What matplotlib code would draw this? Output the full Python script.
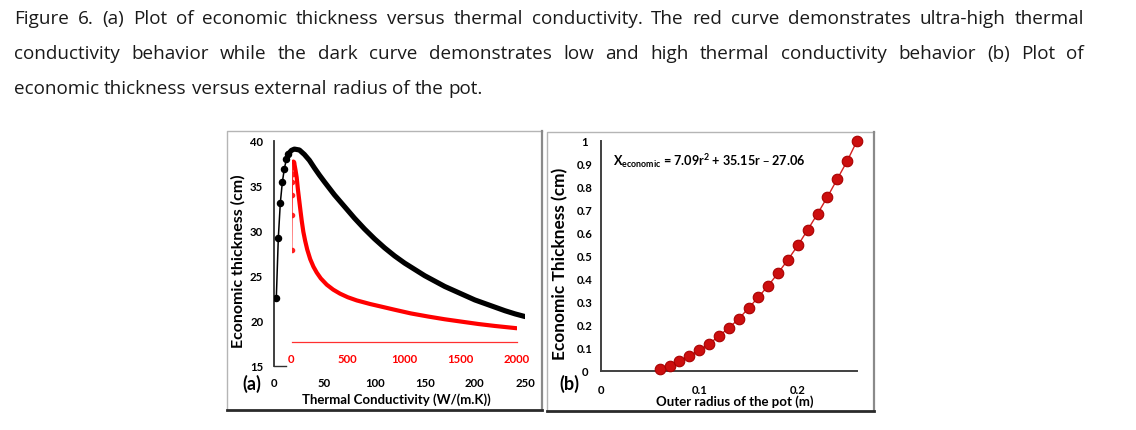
import matplotlib
matplotlib.use("Agg")
import matplotlib.pyplot as plt
from matplotlib.lines import Line2D

# ---- data ----
# (a) black curve: low / high thermal conductivity, W/(m.K)
k_black = [2, 4, 6, 8, 10, 12, 14, 17, 20, 25, 30, 35, 40, 45, 50, 60, 70, 80,
           90, 100, 110, 120, 130, 140, 150, 160, 170, 180, 190, 200, 210, 220,
           230, 240, 250]
t_black = [22.5, 29.2, 33.1, 35.4, 36.9, 37.95, 38.55, 38.95, 39.1, 39.0, 38.5,
           37.85, 37.0, 36.2, 35.45, 34.0, 32.7, 31.4, 30.2, 29.1, 28.1, 27.2,
           26.4, 25.7, 25.0, 24.4, 23.8, 23.3, 22.8, 22.3, 21.9, 21.5, 21.1,
           20.75, 20.45]
# (a) red curve: ultra-high thermal conductivity (secondary x axis 0..2000)
k_red = [2, 4, 6, 8, 10, 13, 16, 25, 35, 46, 57, 69, 80, 91, 105, 121, 140, 166,
         195, 224, 260, 313, 370, 431, 500, 579, 697, 800, 919, 1060, 1215,
         1360, 1512, 1660, 1808, 2000]
t_red = [27.9, 31.8, 34.0, 35.4, 36.3, 37.1, 37.7, 37.5, 36.8, 35.95, 34.6,
         33.35, 32.2, 31.1, 29.9, 28.9, 27.9, 26.85, 26.0, 25.35, 24.7, 24.0,
         23.45, 23.0, 22.6, 22.25, 21.85, 21.55, 21.2, 20.8, 20.45, 20.15,
         19.88, 19.62, 19.4, 19.15]
# (b) economic thickness vs outer radius
r_pot = [0.06, 0.07, 0.08, 0.09, 0.10, 0.11, 0.12, 0.13, 0.14, 0.15, 0.16, 0.17,
         0.18, 0.19, 0.20, 0.21, 0.22, 0.23, 0.24, 0.25, 0.26]
x_econ = [0.007, 0.022, 0.041, 0.065, 0.088, 0.116, 0.151, 0.186, 0.225, 0.272,
          0.32, 0.37, 0.425, 0.483, 0.545, 0.613, 0.683, 0.756, 0.834, 0.912, 1.0]

a_xticks = [0, 50, 100, 150, 200, 250]
a_yticks = [15, 20, 25, 30, 35, 40]
red_xticks = [0, 500, 1000, 1500, 2000]
b_xticks = [0, 0.1, 0.2]
b_xlabels = ["0", "0.1", "0.2"]
b_yticks = [0, 0.1, 0.2, 0.3, 0.4, 0.5, 0.6, 0.7, 0.8, 0.9, 1.0]
b_ylabels = ["0", "0.1", "0.2", "0.3", "0.4", "0.5", "0.6", "0.7", "0.8", "0.9", "1"]

caption = [
    "Figure 6. (a) Plot of economic thickness versus thermal conductivity. The red curve demonstrates ultra-high thermal",
    "conductivity behavior while the dark curve demonstrates low and high thermal conductivity behavior (b) Plot of",
    "economic thickness versus external radius of the pot.",
]

W, H = 1136, 431
plt.rcParams['font.family'] = ['Lato', 'DejaVu Sans']
plt.rcParams['font.weight'] = 'bold'
plt.rcParams['mathtext.default'] = 'regular'


def fx(x):
    return x / W


def fy(y):
    return 1 - y / H


fig = plt.figure(figsize=(W / 100, H / 100), dpi=100)
renderer = fig.canvas.get_renderer()

# ---- caption, justified like the page ----
for i, line in enumerate(caption):
    words = line.split(" ")
    texts = [fig.text(0, 0, w, fontsize=13.6, family=['Open Sans', 'DejaVu Sans'],
                      fontweight='normal', color='#1a1a1a', va='baseline')
             for w in words]
    widths = [t.get_window_extent(renderer).width for t in texts]
    if i < 2:
        gap = (1084 - 14 - sum(widths)) / (len(words) - 1)
    else:
        gap = 5
    x = 14
    for t, w in zip(texts, widths):
        t.set_position((fx(x), fy(24 + 35 * i)))
        x += w + gap


# ---- panel frames ----
def frame(l, t, r, b):
    fig.add_artist(Line2D([fx(l), fx(l), fx(r)], [fy(b), fy(t), fy(t)],
                          transform=fig.transFigure, color='#b5b5b5', lw=1))
    fig.add_artist(Line2D([fx(r), fx(r)], [fy(t), fy(b)],
                          transform=fig.transFigure, color='#8a8a8a', lw=1.6))
    fig.add_artist(Line2D([fx(l), fx(r)], [fy(b), fy(b)],
                          transform=fig.transFigure, color='#2a2a2a', lw=2))


frame(226.7, 131.7, 541.7, 411)
frame(546.7, 133, 874, 411.7)

# ---- panel (a) ----
ax = fig.add_axes([fx(274.3), fy(366.5), (525 - 274.3) / W, (366.5 - 142) / H])
ax.set_xlim(0, 250)
ax.set_ylim(15, 40)
for s in ['top', 'right']:
    ax.spines[s].set_visible(False)
ax.spines['left'].set_color('#303030')
ax.spines['left'].set_linewidth(1.3)
ax.spines['bottom'].set_color('#303030')
ax.spines['bottom'].set_linewidth(1.0)
ax.spines['bottom'].set_bounds(0, 12)
ax.set_xticks(a_xticks)
ax.set_yticks(a_yticks)
ax.tick_params(axis='x', length=0, pad=11.9, labelsize=8.2)
ax.tick_params(axis='y', length=0, pad=12.7, labelsize=8.2)
for lbl in ax.get_xticklabels():
    lbl.set_va('center')
for lbl in ax.get_yticklabels():
    lbl.set_ha('center')

ax.plot(k_black[:8], t_black[:8], color='black', lw=1.1, marker='o', ms=4.4,
        markevery=slice(0, 7), zorder=3)
ax.plot(k_black[6:], t_black[6:], color='black', lw=3.7,
        solid_capstyle='round', solid_joinstyle='round', zorder=3)

# red secondary axis laid over panel (a)
axr = fig.add_axes([fx(291.5), fy(366.5), (516.7 - 291.5) / W, (366.5 - 142) / H])
axr.patch.set_visible(False)
axr.set_xlim(0, 2000)
axr.set_ylim(15, 40)
for s in ['top', 'right', 'left']:
    axr.spines[s].set_visible(False)
axr.spines['bottom'].set_position(('data', 17.6))
axr.spines['bottom'].set_color('#ff3030')
axr.spines['bottom'].set_linewidth(0.9)
axr.set_yticks([])
axr.set_xticks(red_xticks)
axr.tick_params(axis='x', length=0, pad=11.5, labelsize=8.2, labelcolor='red')
for lbl in axr.get_xticklabels():
    lbl.set_va('center')
axr.plot(k_red[:7], t_red[:7], color='#ff2020', lw=1.0, marker='o', ms=3.0,
         zorder=3)
axr.plot(k_red[6:], t_red[6:], color='red', lw=3.0,
         solid_capstyle='round', solid_joinstyle='round', zorder=3)

fig.text(fx(238), fy(261), "Economic thickness (cm)", rotation=90,
         ha='center', va='center', fontsize=11.5)
fig.text(fx(396), fy(400), "Thermal Conductivity (W/(m.K))",
         ha='center', va='center', fontsize=9.5)
fig.text(fx(252), fy(384), "(a)", ha='center', va='center', fontsize=13)

# ---- panel (b) ----
bx = fig.add_axes([fx(600.5), fy(371.7), 256.6 / W, 230 / H])
bx.set_xlim(0, 0.26)
bx.set_ylim(0, 1)
for s in ['top', 'right']:
    bx.spines[s].set_visible(False)
for s in ['left', 'bottom']:
    bx.spines[s].set_color('#404040')
    bx.spines[s].set_linewidth(1.4)
bx.set_xticks(b_xticks)
bx.set_xticklabels(b_xlabels)
bx.set_yticks(b_yticks)
bx.set_yticklabels(b_ylabels)
bx.tick_params(axis='x', length=0, pad=13.2, labelsize=8.2)
bx.tick_params(axis='y', length=0, pad=11.2, labelsize=8.2)
for lbl in bx.get_xticklabels():
    lbl.set_va('center')
for lbl in bx.get_yticklabels():
    lbl.set_ha('center')
bx.plot(r_pot, x_econ, color='#d42020', lw=1.0, marker='o', ms=7.6,
        mfc='#cc0e0e', mec='#a80000', mew=0.8, clip_on=False, zorder=3)
bx.text(0.0125, 0.915, "X$_{economic}$ = 7.09r$^{2}$ + 35.15r \u2013 27.06",
        ha='left', va='center', fontsize=9.1)

fig.text(fx(560), fy(264), "Economic Thickness (cm)", rotation=90,
         ha='center', va='center', fontsize=12.4)
fig.text(fx(735), fy(401.5), "Outer radius of the pot (m)",
         ha='center', va='center', fontsize=9.5)
fig.text(fx(569), fy(384), "(b)", ha='center', va='center', fontsize=13)

fig.savefig("out.png", dpi=100)
